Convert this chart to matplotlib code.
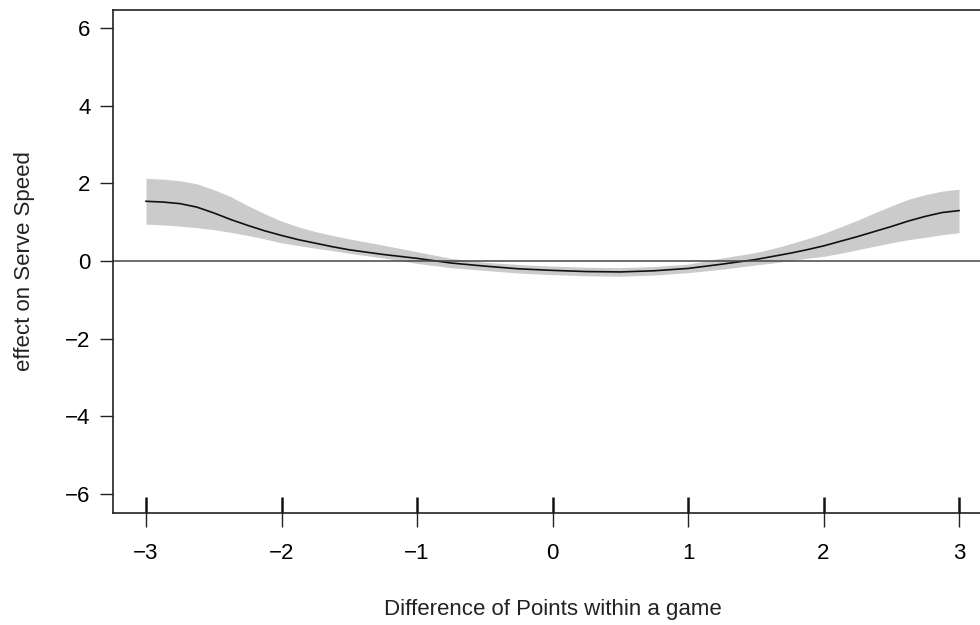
import matplotlib
matplotlib.use("Agg")
import matplotlib.pyplot as plt
import numpy as np

plt.rcParams['font.family'] = ['Liberation Sans', 'DejaVu Sans']

# smooth effect of point difference on serve speed
x = [-3.0, -2.875, -2.75, -2.625, -2.5, -2.375, -2.25, -2.125, -2.0, -1.875, -1.75, -1.625,
     -1.5, -1.25, -1.0, -0.75, -0.5, -0.25, 0.0, 0.25, 0.5, 0.75, 1.0, 1.25,
     1.5, 1.625, 1.75, 1.875, 2.0, 2.125, 2.25, 2.375, 2.5, 2.625, 2.75, 2.875, 3.0]
fit = [1.54, 1.52, 1.48, 1.39, 1.24, 1.07, 0.92, 0.78, 0.66, 0.55, 0.46, 0.37,
       0.29, 0.17, 0.07, -0.05, -0.13, -0.20, -0.24, -0.27, -0.28, -0.25, -0.19, -0.08,
       0.04, 0.12, 0.20, 0.29, 0.39, 0.51, 0.63, 0.76, 0.89, 1.03, 1.15, 1.25, 1.30]
upper = [2.13, 2.11, 2.07, 1.99, 1.84, 1.66, 1.43, 1.22, 1.03, 0.88, 0.76, 0.66,
         0.57, 0.41, 0.24, 0.07, -0.03, -0.09, -0.13, -0.16, -0.17, -0.14, -0.08, 0.08,
         0.22, 0.32, 0.44, 0.57, 0.71, 0.88, 1.05, 1.24, 1.42, 1.59, 1.71, 1.80, 1.85]
lower = [0.95, 0.93, 0.90, 0.86, 0.81, 0.74, 0.66, 0.57, 0.47, 0.40, 0.33, 0.27,
         0.20, 0.08, -0.06, -0.17, -0.24, -0.31, -0.35, -0.38, -0.39, -0.36, -0.30, -0.21,
         -0.10, -0.05, 0.01, 0.07, 0.12, 0.20, 0.29, 0.38, 0.47, 0.55, 0.61, 0.68, 0.73]
rug_x = [-3, -2, -1, 0, 1, 2, 3]

fig = plt.figure(figsize=(9.8, 6.25), dpi=100)
ax = fig.add_axes([0.1158, 0.1798, 0.896, 0.805])

ax.fill_between(x, lower, upper, color='#cbcbcb', linewidth=0)
ax.plot(x, fit, color='#111111', linewidth=1.2)
ax.axhline(0, color='#444444', linewidth=1.1)

# rug marks on the bottom
ax.vlines(rug_x, 0, 0.032, transform=ax.get_xaxis_transform(),
          color='#111111', linewidth=1.8, clip_on=False)

ax.set_xlim(-3.24, 3.24)
ax.set_ylim(-6.48, 6.48)
ax.set_xticks(rug_x)
ax.set_xticklabels(['\u22123', '\u22122', '\u22121', '0', '1', '2', '3'])
ax.set_yticks([-6, -4, -2, 0, 2, 4, 6])
ax.set_yticklabels(['\u22126', '\u22124', '\u22122', '0', '2', '4', '6'])

ax.tick_params(axis='x', length=10, width=1, pad=12, labelsize=16, color='#222222')
ax.tick_params(axis='y', length=9.5, width=1, pad=7, labelsize=16, color='#222222')
for s in ax.spines.values():
    s.set_linewidth(1.2)
    s.set_color('#222222')

ax.set_xlabel('Difference of Points within a game', fontsize=16, labelpad=25, color='#222222')
ax.set_ylabel('effect on Serve Speed', fontsize=16, labelpad=22, color='#222222')

plt.savefig('out.png', dpi=100)
